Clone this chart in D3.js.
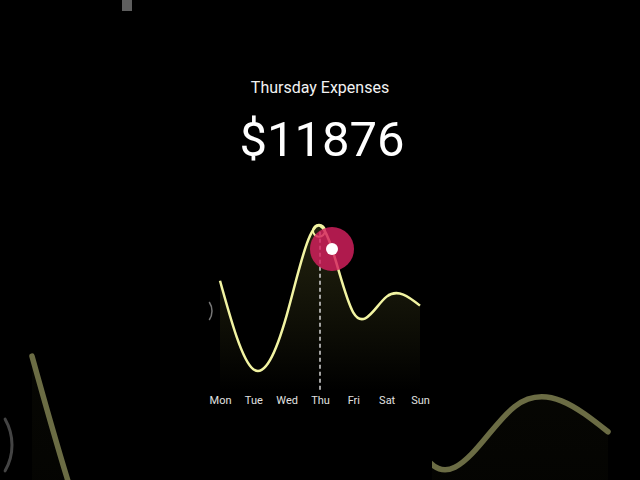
<!DOCTYPE html>
<html lang="en">
<head>
<meta charset="UTF-8">
<title>Thursday Expenses</title>
<style>
  html, body { margin:0; padding:0; background:#000; }
  svg { display:block; font-family: Roboto, "Noto Sans", sans-serif; }
</style>
</head>
<body>
<script src="https://d3js.org/d3.v7.min.js"></script>
<script>
var days = ['Mon','Tue','Wed','Thu','Fri','Sat','Sun'];
var expenses = [7900, 1500, 5400, 11876, 5600, 6750, 6100];
var selectedDay = 'Thu';
var titleText = 'Thursday Expenses';

var width = 640, height = 480;

var svg = d3.select('body').append('svg')
    .attr('width', width)
    .attr('height', height);

var defs = svg.append('defs');
var grad = defs.append('linearGradient')
    .attr('id', 'fade')
    .attr('x1', 0).attr('y1', 0).attr('x2', 0).attr('y2', 1);
grad.append('stop').attr('offset', '0%').attr('stop-color', '#262610').attr('stop-opacity', 0.9);
grad.append('stop').attr('offset', '100%').attr('stop-color', '#000').attr('stop-opacity', 1);

defs.append('clipPath').attr('id', 'clipL')
    .append('rect').attr('x', 0).attr('y', 340).attr('width', 130).attr('height', 140);
defs.append('clipPath').attr('id', 'clipR')
    .append('rect').attr('x', 432).attr('y', 340).attr('width', 208).attr('height', 140);

var xScale = d3.scalePoint().domain(days).range([220, 420]);
var yScale = d3.scaleLinear().domain([0, 12000]).range([390, 224]);

var line = d3.line()
    .x(function(d, i){ return xScale(days[i]); })
    .y(function(d){ return yScale(d); })
    .curve(d3.curveNatural);

var area = d3.area()
    .x(function(d, i){ return xScale(days[i]); })
    .y0(yScale(0))
    .y1(function(d){ return yScale(d); })
    .curve(d3.curveNatural);

// faded zoomed copies of the chart (transition ghosts)
function ghost(clip, k, tx, ty) {
    var g = svg.append('g').attr('clip-path', 'url(#' + clip + ')')
        .append('g')
        .attr('transform', 'translate(' + tx + ',' + ty + ') scale(' + k + ')');
    g.append('path').attr('d', area(expenses)).attr('fill', 'url(#fade)').attr('opacity', 0.3);
    g.append('path').attr('d', line(expenses))
        .attr('fill', 'none')
        .attr('stroke', '#6b6c44')
        .attr('stroke-width', 5.5 / k)
        .attr('stroke-linecap', 'round');
}
ghost('clipL', 3, -628, -486);
ghost('clipR', 2.8, -568, -424);

// grey leftovers
svg.append('rect').attr('x', 122).attr('y', 0).attr('width', 10).attr('height', 11).attr('fill', '#5e5e5e');
var p1 = d3.path(); p1.arc(-40, 445, 52, -0.52, 0.52);
svg.append('path').attr('d', p1.toString()).attr('fill', 'none').attr('stroke', '#444').attr('stroke-width', 3).attr('stroke-linecap', 'round');
var p2 = d3.path(); p2.arc(196, 311, 16, -0.6, 0.6);
svg.append('path').attr('d', p2.toString()).attr('fill', 'none').attr('stroke', '#777').attr('stroke-width', 1.5);

// main chart
svg.append('path').attr('d', area(expenses)).attr('fill', 'url(#fade)');

var selIdx = days.indexOf(selectedDay);
svg.append('line')
    .attr('x1', xScale(selectedDay)).attr('x2', xScale(selectedDay))
    .attr('y1', yScale(expenses[selIdx]) + 6).attr('y2', 392)
    .attr('stroke', '#d8d8d8')
    .attr('stroke-width', 1.5)
    .attr('stroke-dasharray', '4,3');

svg.append('path').attr('d', line(expenses))
    .attr('fill', 'none')
    .attr('stroke', '#f2f4a2')
    .attr('stroke-width', 2.5);

svg.append('circle')
    .attr('cx', xScale(selectedDay) - 1).attr('cy', yScale(expenses[selIdx]) + 5)
    .attr('r', 6)
    .attr('fill', 'none')
    .attr('stroke', '#f2f4a2')
    .attr('stroke-width', 2);

// touch indicator
svg.append('circle')
    .attr('cx', xScale(selectedDay) + 12).attr('cy', 249)
    .attr('r', 22)
    .attr('fill', '#d6205e')
    .attr('opacity', 0.82);
svg.append('circle')
    .attr('cx', xScale(selectedDay) + 12).attr('cy', 249)
    .attr('r', 6)
    .attr('fill', '#fff');

// x labels
var xAxis = d3.axisBottom(xScale).tickSize(0).tickPadding(0);
var ax = svg.append('g').attr('transform', 'translate(0,396)').call(xAxis);
ax.select('.domain').remove();
ax.selectAll('text')
    .attr('fill', '#e0e0e0')
    .attr('font-size', 11)
    .attr('font-family', 'Roboto, sans-serif');

// headings
svg.append('text')
    .attr('x', 320).attr('y', 93)
    .attr('text-anchor', 'middle')
    .attr('fill', '#f2f2f2')
    .attr('font-size', 16)
    .text(titleText);
svg.append('text')
    .attr('x', 322).attr('y', 156)
    .attr('text-anchor', 'middle')
    .attr('fill', '#fff')
    .attr('font-size', 49)
    .text('$' + expenses[selIdx]);
</script>
</body>
</html>
